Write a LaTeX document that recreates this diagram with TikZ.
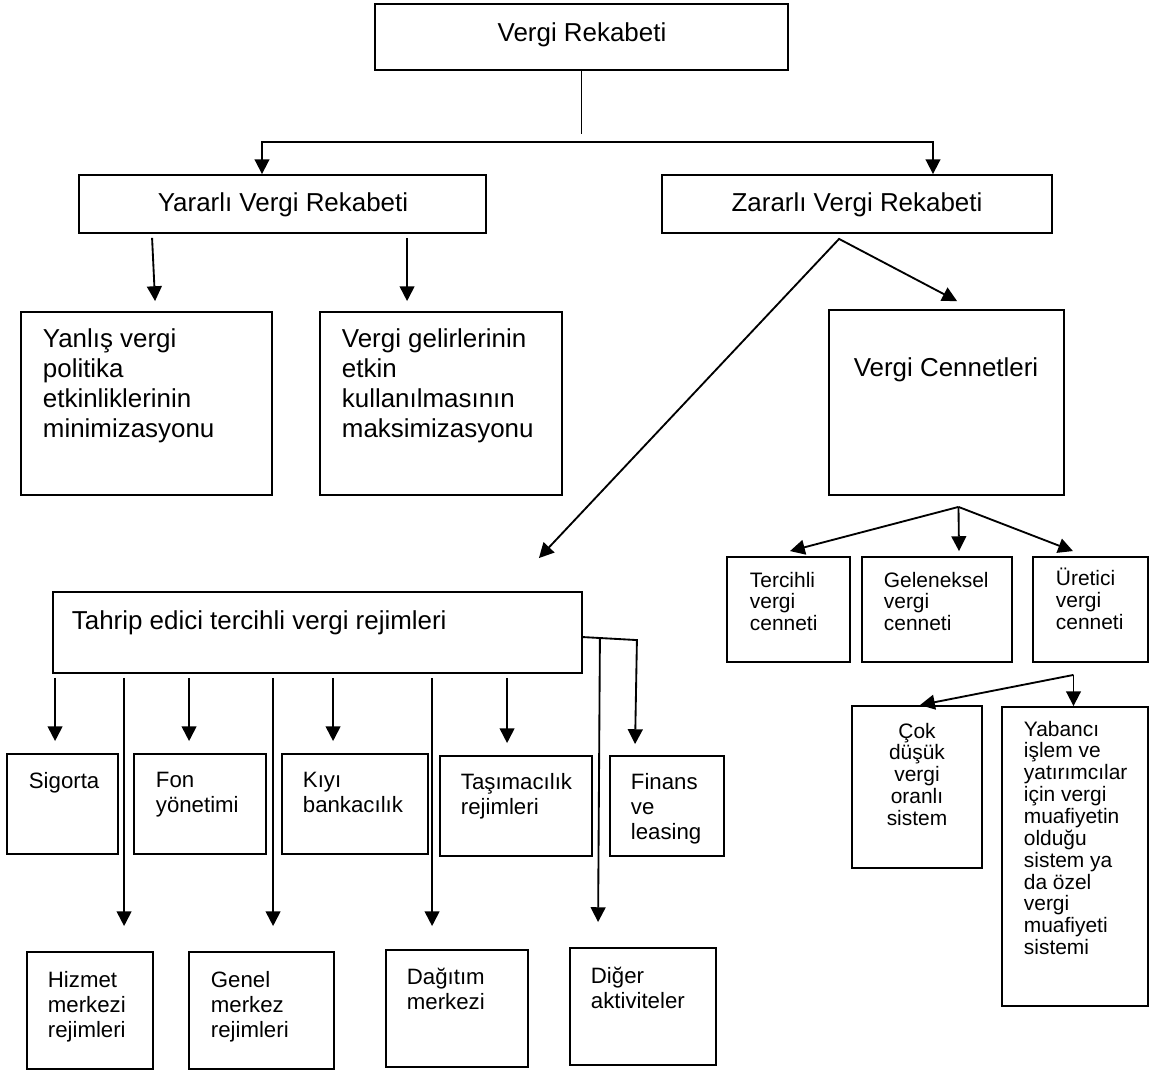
\documentclass[tikz,border=0pt]{standalone}
\usepackage{fontspec}
\setmainfont{Liberation Sans}
\usetikzlibrary{arrows.meta,calc,fit}
\tikzset {>={Triangle[length=8pt,width=8pt]}}

\begin{document}
\begin{tikzpicture}[x=.54pt,y=-.54pt,line width=1pt,
  box/.style={draw,inner sep=0pt},
  big/.style={font=\fontsize{14}{16.2}\selectfont,inner sep=0pt,align=left},
  lbl/.style={font=\fontsize{12}{13.5}\selectfont,inner sep=0pt,align=left,anchor=north west},
  rlbl/.style={font=\fontsize{11.3}{11.8}\selectfont,inner sep=0pt,align=left,anchor=north west}]
\useasboundingbox (0,0) rectangle (1158,1071);
% boxes
\node[box,fit={(375,4) (788,70)}] (vr) {};
\node[box,fit={(79,175) (486,233)}] (yar) {};
\node[box,fit={(662,175) (1052,233)}] (zar) {};
\node[box,fit={(21,312) (272,495)}] (yan) {};
\node[box,fit={(320,312) (562,495)}] (vgel) {};
\node[box,fit={(829,310) (1064,495)}] (cen) {};
\node[box,fit={(53,592) (582,673)}] (tah) {};
\node[box,fit={(727,557) (850,662)}] (ter) {};
\node[box,fit={(862,557) (1012,662)}] (gel) {};
\node[box,fit={(1033,557) (1148,662)}] (ure) {};
\node[box,fit={(852,706) (982,868)}] (cok) {};
\node[box,fit={(1002,707) (1148,1006)}] (yab) {};
\node[box,fit={(7,754) (118,854)}] (sig) {};
\node[box,fit={(134,754) (266,854)}] (fon) {};
\node[box,fit={(282,754) (428,854)}] (kiyi) {};
\node[box,fit={(440,756) (592,856)}] (tas) {};
\node[box,fit={(610,756) (724,856)}] (fin) {};
\node[box,fit={(27,952) (153,1069)}] (hiz) {};
\node[box,fit={(189,952) (334,1069)}] (gen) {};
\node[box,fit={(386,950) (528,1067)}] (dag) {};
\node[box,fit={(570,948) (716,1065)}] (dig) {};

% texts
\node[big,anchor=base] (vrT) at (582,42) {Vergi Rekabeti};
\node[big,anchor=base] (yarT) at (283,212) {Yararlı Vergi Rekabeti};
\node[big,anchor=base] (zarT) at (857,212) {Zararlı Vergi Rekabeti};
\node[big,anchor=north west] (yanT) at (42,328) {Yanlış vergi\\politika\\etkinliklerinin\\minimizasyonu};
\node[big,anchor=north west] (vgelT) at (341,328) {Vergi gelirlerinin\\etkin\\kullanılmasının\\maksimizasyonu};
\node[big,anchor=base] (cenT) at (946,377) {Vergi Cennetleri};
\node[big,anchor=base west] (tahT) at (71,629) {Tahrip edici tercihli vergi rejimleri};
\node[rlbl] (terT) at (749,571) {Tercihli\\vergi\\cenneti};
\node[rlbl] (gelT) at (883,571) {Geleneksel\\vergi\\cenneti};
\node[rlbl] (ureT) at (1055,567) {Üretici\\vergi\\cenneti};
\node[rlbl,anchor=north,align=center] (cokT) at (917,722) {Çok\\düşük\\vergi\\oranlı\\sistem};
\node[rlbl] (yabT) at (1023,720) {Yabancı\\işlem ve\\yatırımcılar\\için vergi\\muafiyetin\\olduğu\\sistem ya\\da özel\\vergi\\muafiyeti\\sistemi};
\node[lbl] (sigT) at (28,771) {Sigorta};
\node[lbl] (fonT) at (155,771) {Fon\\yönetimi};
\node[lbl] (kiyiT) at (302,771) {Kıyı\\bankacılık};
\node[lbl] (tasT) at (460,772) {Taşımacılık\\rejimleri};
\node[lbl] (finT) at (630,772) {Finans\\ve\\leasing};
\node[lbl] (hizT) at (47,970) {Hizmet\\merkezi\\rejimleri};
\node[lbl] (genT) at (210,970) {Genel\\merkez\\rejimleri};
\node[lbl] (dagT) at (406,967) {Dağıtım\\merkezi};
\node[lbl] (digT) at (590,966) {Diğer\\aktiviteler};

% top split
\coordinate (split) at ($(vr.south)+(0,63)$);
\draw[line width=.5pt] (vr.south) -- (split);
\coordinate (barL) at (262,142);
\coordinate (barR) at (933,142);
\draw[<->] (barL |- yar.north) -- (barL) -- (barR) -- (barR |- zar.north);
\draw[->] ($(yar.south west)+(74,4)$) -- ($(yan.north west)+(135,-10)$);
\draw[->] ($(yar.south west)+(329,4)$) -- ($(vgel.north west)+(88,-10)$);

% zararli
\coordinate (zj) at ($(zar.south west)+(178,5)$);
\draw[<->] ($(tah.north east)+(-44,-33)$) -- (zj) -- ($(cen.north west)+(129,-8)$);
\coordinate (cj) at ($(cen.south)+(12,11)$);
\draw[->] (cj) -- ($(ter.north)+(1.5,-5)$);
\draw[->] (cj) -- ($(gel.north)+(22,-5)$);
\draw[->] (cj) -- ($(ure.north)+(-17.5,-5)$);
\coordinate (uj) at ($(ure.south)+(-17,12)$);
\draw[->] (uj) -- (uj |- yab.north);
\draw[->] (uj) -- ($(cok.north)+(3,0)$);

% tahrip
\draw[->] ($(tah.south west)+(3,4)$) -- ($(sig.north west)+(49,-12)$);
\draw[->] ($(tah.south west)+(137,4)$) -- ($(fon.north west)+(56,-12)$);
\draw[->] ($(tah.south west)+(281,4)$) -- ($(kiyi.north west)+(52,-12)$);
\draw[->] ($(tah.south west)+(455,4)$) -- ($(tas.north west)+(68,-12)$);
\draw[->] ($(tah.north east)+(0,46)$) -- ++(54,3) -- ($(fin.north west)+(26,-11)$);
\draw[->] ($(tah.south west)+(72,4)$) -- ($(hiz.north west)+(98,-25)$);
\draw[->] ($(tah.south west)+(221,4)$) -- ($(gen.north west)+(85,-25)$);
\draw[->] ($(tah.south west)+(380,4)$) -- ($(dag.north west)+(47,-23)$);
\draw[->] ($(tah.north east)+(17,46)$) -- ($(dig.north west)+(29,-25)$);
\end{tikzpicture}
\end{document}
